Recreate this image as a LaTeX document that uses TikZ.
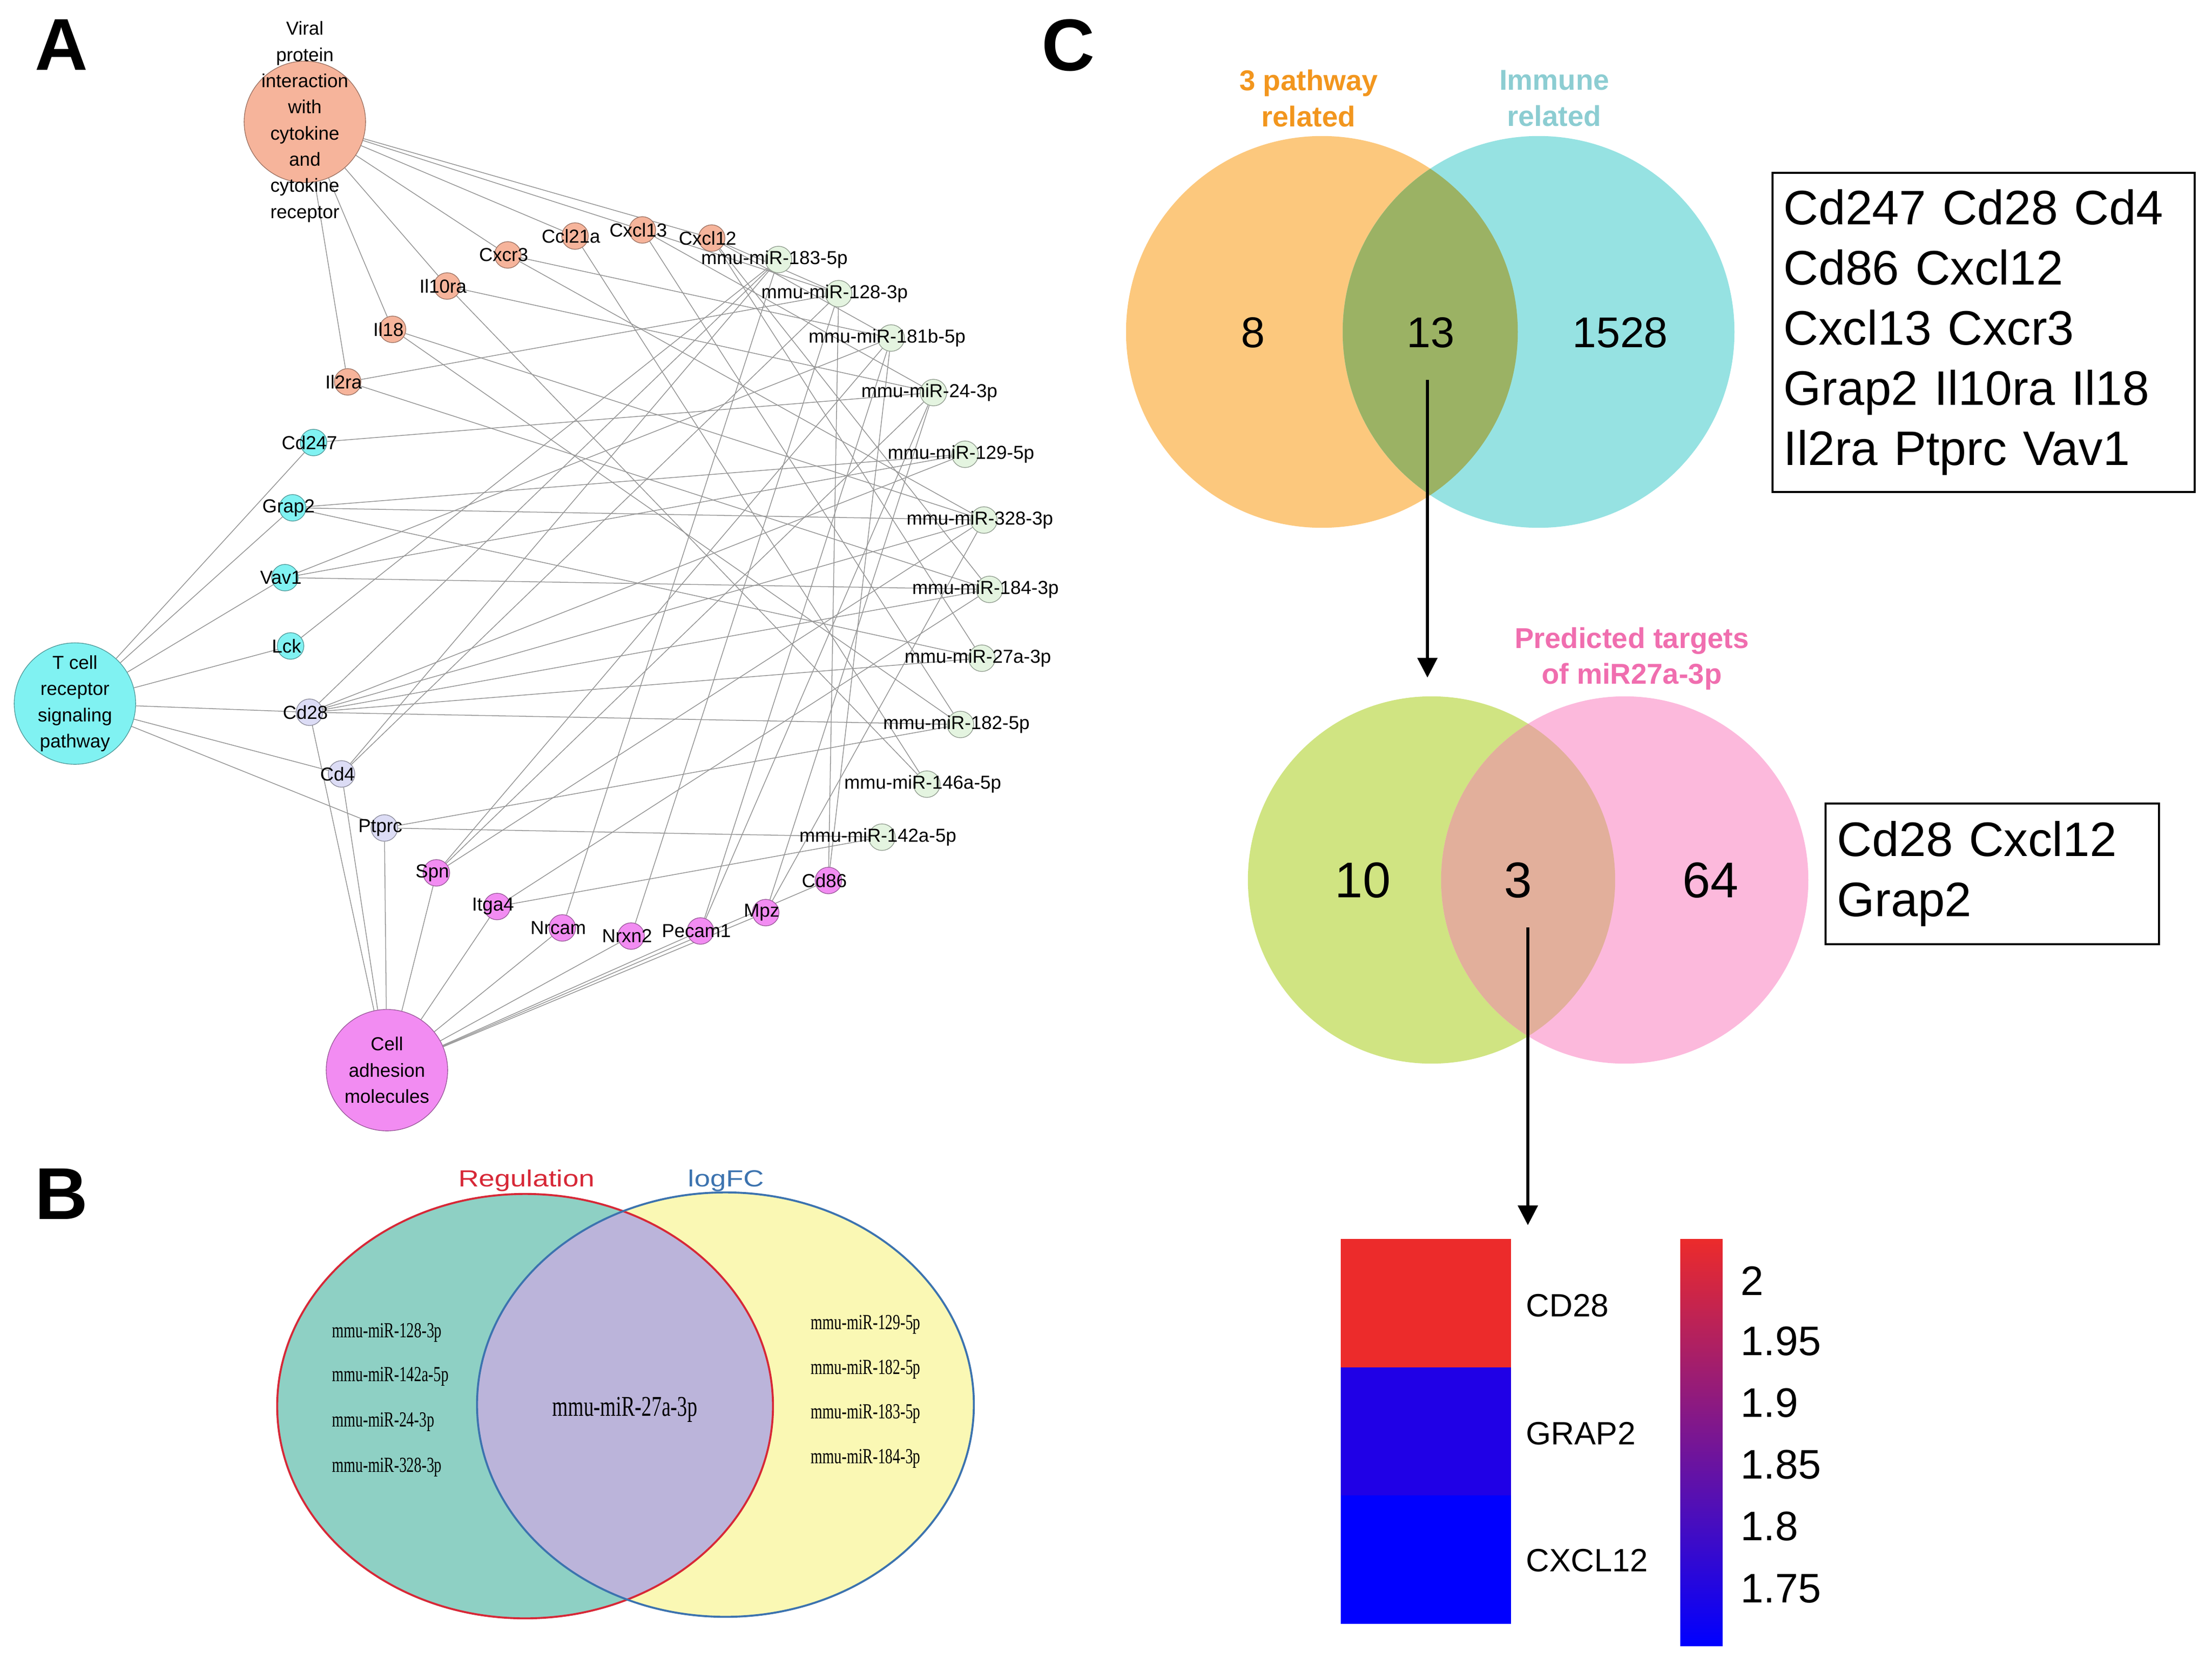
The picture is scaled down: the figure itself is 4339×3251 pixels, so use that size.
\documentclass[tikz,border=0pt]{standalone}
\usepackage{fontspec}
\setmainfont{Liberation Sans}
\newfontfamily\narrowserif[FakeStretch=0.7]{Liberation Serif}
\newfontfamily\widesans[FakeStretch=1.22]{Liberation Sans}
\usetikzlibrary{arrows.meta,backgrounds}

\definecolor{vircol}{RGB}{246,180,155}
\definecolor{tcrcol}{RGB}{128,242,242}
\definecolor{lavcol}{RGB}{220,220,245}
\definecolor{camcol}{RGB}{242,140,242}
\definecolor{mircol}{RGB}{228,244,224}
\definecolor{regfill}{RGB}{142,208,196}
\definecolor{lfcfill}{RGB}{250,248,180}
\definecolor{bothfill}{RGB}{187,180,218}
\definecolor{regline}{RGB}{215,40,55}
\definecolor{lfcline}{RGB}{60,115,175}
\definecolor{pathfill}{RGB}{252,200,125}
\definecolor{immfill}{RGB}{150,226,226}
\definecolor{pifill}{RGB}{155,178,100}
\definecolor{pathtxt}{RGB}{242,150,30}
\definecolor{immtxt}{RGB}{140,205,210}
\definecolor{grnfill}{RGB}{208,228,130}
\definecolor{prdfill}{RGB}{252,185,220}
\definecolor{gpfill}{RGB}{226,175,155}
\definecolor{prdtxt}{RGB}{240,110,175}
\definecolor{hmred}{RGB}{236,43,43}
\definecolor{hmgrap}{RGB}{32,0,230}
\definecolor{hmblue}{RGB}{0,0,255}
\definecolor{barmid}{RGB}{120,22,155}

\tikzset{
    gene/.style={circle, draw=#1!65!black, fill=#1, line width=0.4pt,
        minimum size=0.52cm, inner sep=0pt},
    hub/.style={circle, draw=#1!65!black, fill=#1, line width=0.4pt,
        minimum size=2.38cm, inner sep=0pt},
    lbl/.style={font=\fontsize{10.5}{14.6}\selectfont, xshift=-0.08cm, inner sep=0pt},
    hubtxt/.style={font=\fontsize{10.5}{14.6}\selectfont, align=center, inner sep=0pt},
    edge/.style={draw=black!42, line width=0.43pt},
    panel/.style={font=\fontsize{41}{41}\selectfont\bfseries, inner sep=0pt},
    mirtxt/.style={font=\narrowserif\fontsize{12}{14}\selectfont, anchor=west, inner sep=0pt},
    setname/.style={font=\widesans\fontsize{13}{13}\selectfont, inner sep=0pt},
    setlbl/.style={font=\fontsize{16}{20}\selectfont\bfseries, align=center, inner sep=0pt},
    count/.style={font=\fontsize{24}{24}\selectfont, inner sep=0pt},
    bigcount/.style={font=\fontsize{28}{28}\selectfont, inner sep=0pt},
    genebox/.style={draw, line width=1.1pt, align=left, inner xsep=0.22cm,
        font=\fontsize{27}{33.6}\selectfont},
    flow/.style={-{Triangle[width=11pt,length=11pt]}, line width=1.6pt},
    hmcell/.style={minimum width=3.34cm, minimum height=2.52cm, inner sep=0pt},
    hmtxt/.style={font=\fontsize{18}{18}\selectfont, anchor=west, inner sep=0pt},
    ticktxt/.style={font=\fontsize{23}{23}\selectfont, anchor=west, inner sep=0pt}
}

\begin{document}
\begin{tikzpicture}[x=0.01cm, y=-0.01cm]
    \useasboundingbox (0,0) rectangle (4339,3251);

    \node[panel] (labA) at (121,88) {A};
    \node[panel] (labB) at (121,2342) {B};
    \node[panel] (labC) at (2096,89) {C};

    \node[hub=vircol, label={[hubtxt]center:{Viral\\protein\\interaction\\with\\cytokine\\and\\cytokine\\receptor}}] (viral) at (598,239) {};
    \node[hub=tcrcol, label={[hubtxt]center:{T cell\\receptor\\signaling\\pathway}}] (tcell) at (147,1380) {};
    \node[hub=camcol, label={[hubtxt]center:{Cell\\adhesion\\molecules}}] (cam) at (759,2099) {};

    \foreach \g/\x/\y in {Ccl21a/1128/463, Cxcl13/1260/451, Cxcl12/1396/467, Cxcr3/996/500,
            Il10ra/877/561, Il18/770/646, Il2ra/682/749}
        \node[gene=vircol, label={[lbl]center:\g}] (\g) at (\x,\y) {};
    \foreach \g/\x/\y in {Cd247/615/868, Grap2/574/996, Vav1/559/1133, Lck/570/1267}
        \node[gene=tcrcol, label={[lbl]center:\g}] (\g) at (\x,\y) {};
    \foreach \g/\x/\y in {Cd28/607/1397, Cd4/670/1518, Ptprc/754/1624}
        \node[gene=lavcol, label={[lbl]center:\g}] (\g) at (\x,\y) {};
    \foreach \g/\x/\y in {Spn/856/1712, Itga4/975/1778, Nrcam/1103/1820, Nrxn2/1238/1836,
            Pecam1/1374/1826, Mpz/1502/1790, Cd86/1625/1727}
        \node[gene=camcol, label={[lbl]center:\g}] (\g) at (\x,\y) {};
    \foreach \m/\t/\x/\y in {m183/183-5p/1527/509, m128/128-3p/1645/576, m181b/181b-5p/1748/663,
            m24/24-3p/1831/770, m129/129-5p/1893/891, m328/328-3p/1930/1020,
            m184/184-3p/1941/1156, m27a/27a-3p/1926/1291, m182/182-5p/1884/1421,
            m146a/146a-5p/1818/1538, m142a/142a-5p/1730/1642}
        \node[gene=mircol, label={[lbl]center:mmu-miR-\t}] (\m) at (\x,\y) {};

    \begin{scope}[on background layer]
        \fill[white] (0,0) rectangle (4339,3251);
        \foreach \g in {Ccl21a,Cxcl13,Cxcl12,Cxcr3,Il10ra,Il18,Il2ra}
            \draw[edge] (viral) -- (\g);
        \foreach \g in {Cd247,Grap2,Vav1,Lck,Cd28,Cd4,Ptprc}
            \draw[edge] (tcell) -- (\g);
        \foreach \g in {Cd28,Cd4,Ptprc,Spn,Itga4,Nrcam,Nrxn2,Pecam1,Mpz,Cd86}
            \draw[edge] (cam) -- (\g);
        \foreach \g/\m in {Ccl21a/m146a, Cxcl13/m128, Cxcl13/m24, Cxcl13/m182,
                Cxcl12/m128, Cxcl12/m181b, Cxcl12/m27a, Cxcl12/m184,
                Cxcr3/m181b, Cxcr3/m328, Il10ra/m24, Il10ra/m146a,
                Il18/m328, Il18/m182, Il2ra/m128, Il2ra/m184, Cd247/m24,
                Grap2/m328, Grap2/m27a, Grap2/m129, Vav1/m184, Vav1/m181b, Vav1/m129,
                Lck/m183, Cd28/m183, Cd28/m129, Cd28/m328, Cd28/m27a, Cd28/m182, Cd28/m184,
                Cd4/m183, Cd4/m128, Ptprc/m182, Ptprc/m142a,
                Spn/m24, Spn/m181b, Spn/m328, Itga4/m184, Itga4/m142a,
                Nrcam/m183, Nrxn2/m128, Pecam1/m181b, Pecam1/m24,
                Mpz/m24, Mpz/m328, Cd86/m181b, Cd86/m128}
            \draw[edge] (\g) -- (\m);
    \end{scope}

    \fill[regfill] (1030,2758) ellipse [x radius=4.86cm, y radius=4.16cm];
    \fill[lfcfill] (1423,2755) ellipse [x radius=4.87cm, y radius=4.16cm];
    \begin{scope}
        \clip (1030,2758) ellipse [x radius=4.86cm, y radius=4.16cm];
        \fill[bothfill] (1423,2755) ellipse [x radius=4.87cm, y radius=4.16cm];
    \end{scope}
    \draw[regline, line width=1.1pt] (1030,2758) ellipse [x radius=4.86cm, y radius=4.16cm];
    \draw[lfcline, line width=1.1pt] (1423,2755) ellipse [x radius=4.87cm, y radius=4.16cm];
    \node[setname, text=regline] (regl) at (1033,2316) {Regulation};
    \node[setname, text=lfcline] (lfcl) at (1424,2316) {logFC};
    \foreach \t/\y in {128-3p/2614, 142a-5p/2700, 24-3p/2789, 328-3p/2878}
        \node[mirtxt] (reg\y) at (651,\y) {mmu-miR-\t};
    \foreach \t/\y in {129-5p/2598, 182-5p/2686, 183-5p/2773, 184-3p/2861}
        \node[mirtxt] (lfc\y) at (1590,\y) {mmu-miR-\t};
    \node[font=\narrowserif\fontsize{16}{16}\selectfont] (both) at (1226,2765) {mmu-miR-27a-3p};

    \fill[pathfill] (2593,651) circle [radius=3.84cm];
    \fill[immfill] (3018,651) circle [radius=3.84cm];
    \begin{scope}
        \clip (2593,651) circle [radius=3.84cm];
        \fill[pifill] (3018,651) circle [radius=3.84cm];
    \end{scope}
    \node[setlbl, text=pathtxt] (pathl) at (2567,193) {3 pathway\\related};
    \node[setlbl, text=immtxt] (imml) at (3049,193) {Immune\\related};
    \node[count] (n8) at (2458,652) {8};
    \node[count] (n13) at (2806,652) {13};
    \node[count] (n1528) at (3178,652) {1528};
    \node[genebox, minimum width=8.28cm, minimum height=6.26cm, text width=7.84cm] (boxA) at (3891,652)
        {Cd247 Cd28 Cd4\\Cd86 Cxcl12\\Cxcl13 Cxcr3\\Grap2 Il10ra Il18\\Il2ra Ptprc Vav1};

    \fill[grnfill] (2808,1726) circle [radius=3.6cm];
    \fill[prdfill] (3187,1726) circle [radius=3.6cm];
    \begin{scope}
        \clip (2808,1726) circle [radius=3.6cm];
        \fill[gpfill] (3187,1726) circle [radius=3.6cm];
    \end{scope}
    \node[setlbl, text=prdtxt] (prdl) at (3201,1292) {Predicted targets\\of miR27a-3p};
    \node[bigcount] (n10) at (2673,1727) {10};
    \node[bigcount] (n3) at (2978,1727) {3};
    \node[bigcount] (n64) at (3355,1727) {64};
    \node[genebox, minimum width=6.54cm, minimum height=2.76cm, text width=6.08cm] (boxB) at (3908,1714)
        {Cd28 Cxcl12\\Grap2};

    \coordinate (arrA) at (2800,745);
    \coordinate (arrAend) at (2800,1329);
    \coordinate (arrB) at (2997,1819);
    \coordinate (arrBend) at (2997,2403);
    \draw[flow] (arrA) -- (arrAend);
    \draw[flow] (arrB) -- (arrBend);

    \node[hmcell, fill=hmred] (hCD28) at (2797,2556) {};
    \node[hmcell, fill=hmgrap] (hGRAP2) at (2797,2808) {};
    \node[hmcell, fill=hmblue] (hCXCL12) at (2797,3059) {};
    \node[hmtxt] (tCD28) at (2993,2561) {CD28};
    \node[hmtxt] (tGRAP2) at (2993,2812) {GRAP2};
    \node[hmtxt] (tCXCL12) at (2993,3061) {CXCL12};
    \shade[top color=hmred, middle color=barmid, bottom color=hmblue] (3296,2430) rectangle (3379,3228);
    \foreach \v/\y in {2/2512, 1.95/2631, 1.9/2752, 1.85/2873, 1.8/2994, 1.75/3116}
        \node[ticktxt] (tick\y) at (3414,\y) {\v};
\end{tikzpicture}
\end{document}
